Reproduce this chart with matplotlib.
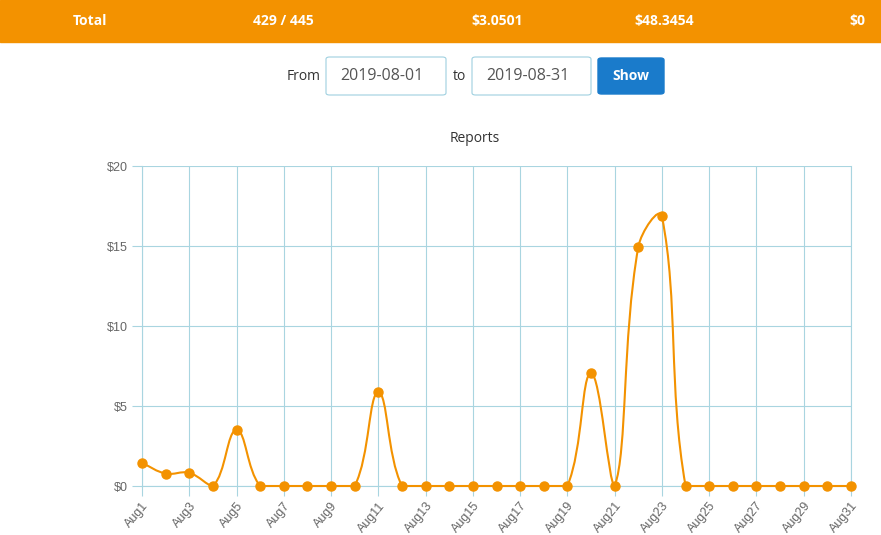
import matplotlib.pyplot as plt
import matplotlib.patches as mpatches
from matplotlib.path import Path

# data
days = list(range(1, 32))
values = [1.44, 0.78, 0.82, 0, 3.5, 0, 0, 0, 0, 0,
          5.85, 0, 0, 0, 0, 0, 0, 0, 0, 7.05,
          0, 14.95, 16.85, 0, 0, 0, 0, 0, 0, 0, 0]
tick_days = list(range(1, 32, 2))
tick_labels = ['Aug%d' % d for d in tick_days]
y_ticks = [0, 5, 10, 15, 20]
summary = ['Total', '429 / 445', '$3.0501', '$48.3454', '$0']
summary_x = [90, 283, 497, 664, 857]

W, H = 881, 535
ORANGE = '#f39200'
GRID = '#a9d5e0'


def fx(px):
    return px / W


def fy(py):
    return 1 - py / H


def spline_path(xs, ys, sx, sy, tension=0.4):
    # bezier control points like chart.js (tension, capped to the chart area)
    pts = [(x * sx, y * sy) for x, y in zip(xs, ys)]
    xmin, xmax = xs[0] * sx, xs[-1] * sx
    ymax = 20 * sy
    n = len(pts)
    ctrl = []
    for i in range(n):
        p = pts[max(i - 1, 0)]
        c = pts[i]
        q = pts[min(i + 1, n - 1)]
        d01 = ((c[0] - p[0]) ** 2 + (c[1] - p[1]) ** 2) ** 0.5
        d12 = ((q[0] - c[0]) ** 2 + (q[1] - c[1]) ** 2) ** 0.5
        tot = d01 + d12
        fa = tension * d01 / tot if tot else 0
        fb = tension * d12 / tot if tot else 0
        cp = (c[0] - fa * (q[0] - p[0]), c[1] - fa * (q[1] - p[1]))
        cn = (c[0] + fb * (q[0] - p[0]), c[1] + fb * (q[1] - p[1]))
        cp = (min(max(cp[0], xmin), xmax), min(max(cp[1], 0), ymax))
        cn = (min(max(cn[0], xmin), xmax), min(max(cn[1], 0), ymax))
        ctrl.append((cp, cn))
    verts = [(pts[0][0] / sx, pts[0][1] / sy)]
    codes = [Path.MOVETO]
    for i in range(1, n):
        for v in (ctrl[i - 1][1], ctrl[i][0], pts[i]):
            verts.append((v[0] / sx, v[1] / sy))
            codes.append(Path.CURVE4)
    return Path(verts, codes)


fig = plt.figure(figsize=(W / 100, H / 100), dpi=100)

# header bar
fig.patches.append(mpatches.Rectangle((0, fy(42)), 1, 42 / H, transform=fig.transFigure,
                                      color=ORANGE, zorder=0))
for s, x in zip(summary, summary_x):
    fig.text(fx(x), fy(21), s, color='white', fontsize=10, fontweight='bold',
             family='Open Sans', ha='center', va='center')

# date form
fig.text(fx(321), fy(76), 'From', fontsize=10, color='#333333', family='Open Sans',
         ha='right', va='center')
fig.text(fx(466), fy(76), 'to', fontsize=10, color='#333333', family='Open Sans',
         ha='right', va='center')
for x0, x1, txt in [(326, 446, '2019-08-01'), (472, 591, '2019-08-31')]:
    box = mpatches.FancyBboxPatch((fx(x0), fy(95)), fx(x1 - x0), 38 / H,
                                  boxstyle='round,pad=0,rounding_size=0.004',
                                  transform=fig.transFigure, facecolor='white',
                                  edgecolor='#9fd0e0', linewidth=0.8)
    fig.patches.append(box)
    fig.text(fx(x0 + 14), fy(76), txt, fontsize=11.5, color='#555555',
             family='Open Sans', ha='left', va='center')
btn = mpatches.FancyBboxPatch((fx(598), fy(94)), fx(66), 36 / H,
                              boxstyle='round,pad=0,rounding_size=0.004',
                              transform=fig.transFigure, facecolor='#1a7bcb',
                              edgecolor='#1a7bcb')
fig.patches.append(btn)
fig.text(fx(631), fy(76), 'Show', fontsize=10, color='white', fontweight='bold',
         family='Open Sans', ha='center', va='center')

fig.text(fx(475), fy(139), 'Reports', fontsize=10, color='#333333', family='Open Sans',
         ha='center', va='center')

# chart area
L, R, T, B = 142, 851, 166, 486
ax = fig.add_axes([fx(L), fy(B), (R - L) / W, (B - T) / H])
ax.set_xlim(1, 31)
ax.set_ylim(0, 20)

path = spline_path(days, values, (R - L) / 30.0, (B - T) / 20.0)
ax.add_patch(mpatches.PathPatch(path, facecolor='none', edgecolor=ORANGE,
                                linewidth=1.5, zorder=3, clip_on=False))
ax.plot(days, values, 'o', color=ORANGE, markersize=6.5, zorder=4, clip_on=False)

ax.set_xticks(tick_days)
ax.set_xticklabels(tick_labels, rotation=50, ha='right', rotation_mode='anchor',
                   fontsize=9, color='#666666', family='Liberation Sans')
ax.set_yticks(y_ticks)
ax.set_yticklabels(['$%d' % v for v in y_ticks], fontsize=9, color='#666666',
                   family='Liberation Sans')
ax.tick_params(axis='both', length=7, width=0.8, color=GRID, pad=3)
ax.grid(True, color=GRID, linewidth=0.8)
for sp in ax.spines.values():
    sp.set_color(GRID)
    sp.set_linewidth(0.8)
ax.spines['top'].set_visible(False)

fig.savefig('out.png', dpi=100)
